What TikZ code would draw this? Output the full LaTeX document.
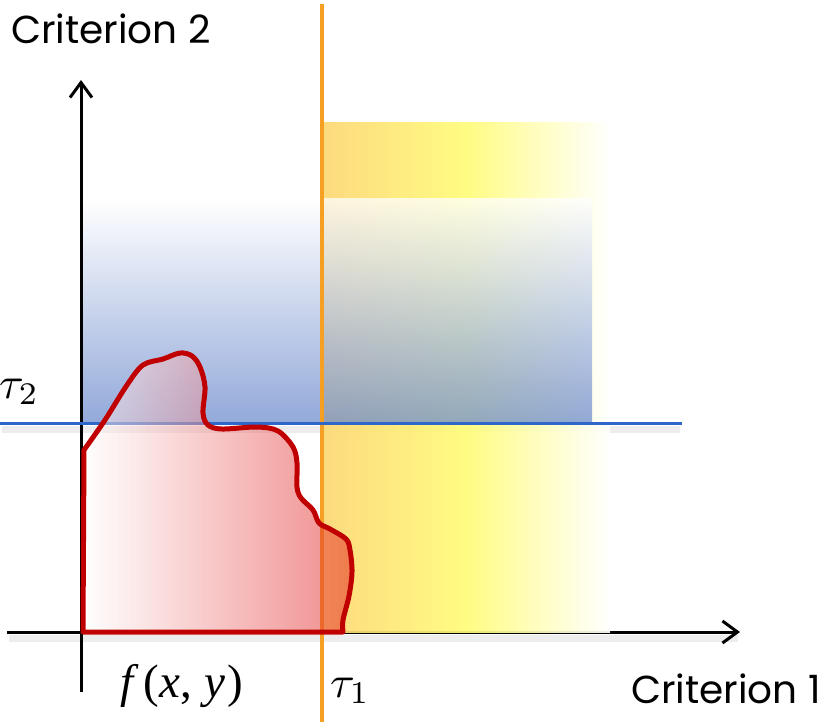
\documentclass[tikz,border=0pt]{standalone}
\usepackage{fontspec}
\setmainfont{Poppins}
\newfontfamily\tnr{Liberation Serif}
\usetikzlibrary{arrows.meta}
\definecolor{axisorange}{RGB}{245,160,35}
\definecolor{axisblue}{RGB}{47,102,201}
\definecolor{yelA}{RGB}{252,214,115}
\definecolor{yelB}{RGB}{255,252,120}
\definecolor{bluefill}{RGB}{110,140,205}
\definecolor{blobred}{RGB}{225,25,25}
\definecolor{blobline}{RGB}{192,0,0}
\begin{document}
\begin{tikzpicture}[x=1pt,y=-1pt,
  axisline/.style={line width=3pt,black},
  tip/.style={-{Straight Barb[length=15pt,width=22pt]}},
  shadowline/.style={line width=7pt,black,opacity=0.07},
  lbl/.style={font=\fontsize{39}{44}\selectfont,inner sep=0pt},
  mathlbl/.style={font=\normalsize,inner sep=0pt}]
\useasboundingbox (0,0) rectangle (824,726);
% shadows
\draw[shadowline] (9,638) -- (738,638);
\draw[shadowline] (2,429) -- (680,429);
% axes
\coordinate (xs) at (7,632);
\coordinate (xe) at (740,632);
\coordinate (ys) at (81,692);
\coordinate (ye) at (81,80);
\draw[axisline,tip] (xs) -- (xe);
\draw[axisline,tip] (ys) -- (ye);
% yellow region
\shade[left color=yelA, right color=white, middle color=yelB, fill opacity=0.92] (322,122) rectangle (610,632);
% blue region
\shade[top color=white, bottom color=bluefill, fill opacity=0.75] (83,198) rectangle (592,423);
% threshold lines
\coordinate (os) at (322,4);
\coordinate (oe) at (322,722);
\coordinate (bs) at (0,423);
\coordinate (be) at (682,423);
\draw[line width=3.5pt,axisorange] (os) -- (oe);
\draw[line width=3pt,axisblue] (bs) -- (be);
% blob
\shadedraw[left color=white, right color=blobred, fill opacity=0.5, draw=blobline, line width=5pt, line join=round]
  (83,632) -- (84,450) -- plot[smooth,tension=0.55] coordinates {(84,450) (105,420) (127,385) (143,365) (163,359) (180,353) (192,356) (200,367) (205,387) (203,413) (208,425) (222,429) (257,427) (278,431) (293,447) (297,463) (297,487) (301,498) (313,510) (319,523) (330,529) (346,539) (350,550) (352,572) (349,596) (343,620) (343,632)} -- cycle;
% labels
\node[lbl,anchor=base west] (c2) at (11,43) {Criterion 2};
\node[lbl,anchor=base east] (c1) at (821,703) {Criterion 1};
\node[mathlbl,anchor=base west] (t2) at (-1,398) {\scalebox{4.5}{$\tau_2$}};
\node[mathlbl,anchor=base west] (t1) at (330,697) {\scalebox{4.5}{$\tau_1$}};
\node[inner sep=0pt,anchor=base west,font=\tnr\fontsize{47}{48}\selectfont] (f) at (120,697) {\itshape f\hspace{10pt}\upshape(\hspace{1pt}\itshape x\upshape,\hspace{12pt}\itshape y\hspace{2pt}\upshape)};
\end{tikzpicture}
\end{document}
